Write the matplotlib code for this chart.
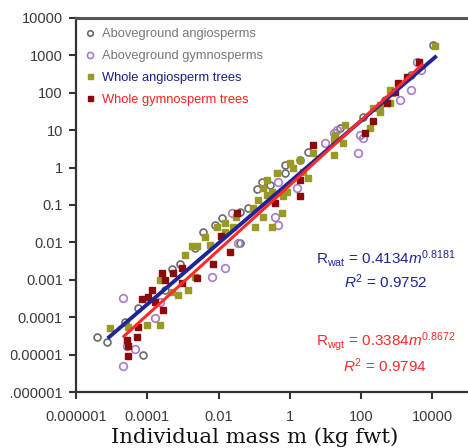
import numpy as np
import matplotlib
matplotlib.use("Agg")
import matplotlib.pyplot as plt
from matplotlib.patches import Rectangle

# ---------------- data ----------------
# Aboveground angiosperms (open grey circles)
ag_ang_m = [3.9e-6, 7.4e-6, 7.6e-5, 5.5e-5, 5.0e-4, 8.3e-4, 8.1e-3, 0.0126, 0.041, 0.068,
            0.12, 0.17, 0.74, 0.74, 3.3, 115, 1.07e4, 2.2e-3, 3.7e-3, 0.041,
            0.28, 1.95, 26, 480, 2450, 2.4e-5, 3.2e-4]
ag_ang_r = [3.0e-5, 2.2e-5, 1.0e-5, 1.8e-4, 1.9e-3, 2.6e-3, 0.030, 0.046, 0.0098, 0.085,
            0.26, 0.42, 1.2, 0.72, 2.6, 23, 1900, 7.2e-3, 0.019, 0.066,
            0.35, 1.6, 11.5, 65, 300, 7.6e-5, 5.5e-4]

# Aboveground gymnosperms (open purple circles)
ag_gym_m = [2.1e-5, 2.1e-5, 2.7e-5, 4.6e-5, 1.7e-4, 0.024, 0.48, 0.39, 0.48, 1.6,
            21, 95, 84, 10, 17, 115, 2450, 3800, 4700, 1260,
            0.0155, 6.6e-3, 0.035, 2.3e-4]
ag_gym_r = [3.3e-4, 5.1e-6, 1.7e-5, 1.4e-5, 9.8e-5, 0.062, 0.030, 0.049, 0.42, 0.29,
            10.2, 7.6, 2.5, 4.6, 8.5, 6.3, 120, 680, 410, 65,
            2.1e-3, 1.2e-3, 9.8e-3, 2.6e-4]

# Whole angiosperm trees (olive squares)
wh_ang_m = [9.1e-6, 2.9e-5, 1.0e-4, 2.3e-4, 2.3e-4, 5.0e-4, 7.4e-4, 1.15e-3, 1.8e-3, 1.4e-3,
            2.2e-3, 2.5e-3, 4.2e-3, 9.1e-3, 0.0155, 0.030, 0.026, 0.107, 0.32, 0.13,
            0.23, 0.23, 0.45, 0.32, 0.62, 0.85, 1.0, 1.95, 2.4, 4.6,
            1.26, 3.3, 0.66, 36, 19, 32, 17, 180, 350, 660,
            660, 350, 220, 17, 1.2e4, 760, 0.18, 0.093, 0.0155, 5.9e-3, 0.18]
wh_ang_r = [5.0e-5, 5.6e-5, 6.3e-5, 6.3e-5, 1.0e-3, 4.6e-4, 4.0e-4, 4.7e-3, 7.8e-3, 5.5e-4,
            1.2e-3, 8.1e-3, 0.014, 0.026, 0.034, 0.049, 0.026, 0.026, 0.026, 0.14,
            0.19, 0.47, 0.72, 0.22, 0.062, 0.22, 1.35, 1.6, 0.78, 2.5,
            1.0, 0.54, 0.17, 13.8, 7.6, 4.6, 2.2, 11.5, 31, 54,
            120, 48, 40, 5.5, 1780, 100, 0.29, 0.085, 0.019, 8.7e-3, 0.049]

# Whole gymnosperm trees (dark red squares)
wh_gym_m = [2.7e-5, 5.1e-5, 2.9e-5, 2.9e-5, 5.5e-5, 7.1e-5, 1.05e-4, 1.7e-4, 1.4e-4, 2.6e-4,
            3.2e-4, 5.4e-4, 9.5e-4, 9.5e-4, 2.8e-4, 0.012, 0.021, 0.033, 0.39, 1.95,
            1.95, 4.6, 220, 130, 550, 4100, 2000, 1120, 920, 7.1e-3, 2.5e-3]
wh_gym_r = [2.5e-5, 3.0e-5, 1.7e-5, 8.9e-6, 5.6e-5, 3.0e-4, 3.5e-4, 2.5e-4, 5.5e-4, 1.55e-3,
            1.0e-3, 1.55e-3, 2.1e-3, 8.3e-4, 1.6e-4, 0.015, 5.6e-3, 0.062, 0.115, 0.47,
            0.17, 4.1, 18, 8.5, 54, 680, 260, 180, 105, 2.6e-3, 1.15e-3]

# Fitted power laws
fit_ang_coef, fit_ang_exp = 0.4134, 0.8181
fit_gym_coef, fit_gym_exp = 0.3384, 0.8672
fit_ang_range = [8.5e-6, 1.2e4]
fit_gym_range = [2.2e-5, 5.2e3]

legend_labels = ["Aboveground angiosperms", "Aboveground gymnosperms",
                 "Whole angiosperm trees", "Whole gymnosperm trees"]
x_ticks = [1e-6, 1e-4, 1e-2, 1, 100, 10000]
x_ticklabels = ["0.000001", "0.0001", "0.01", "1", "100", "10000"]
y_ticks = [1e-6, 1e-5, 1e-4, 1e-3, 1e-2, 0.1, 1, 10, 100, 1000, 10000]
y_ticklabels = ["0.000001", "0.00001", "0.0001", "0.001", "0.01", "0.1", "1", "10",
                "100", "1000", "10000"]

# ---------------- figure ----------------
plt.rcParams['font.family'] = ['Liberation Sans', 'DejaVu Sans']
plt.rcParams['mathtext.fontset'] = 'custom'
plt.rcParams['mathtext.rm'] = 'Liberation Sans'
plt.rcParams['mathtext.it'] = 'Liberation Sans:italic'
plt.rcParams['mathtext.bf'] = 'Liberation Sans:bold'

W, H = 468, 448
fig = plt.figure(figsize=(W / 100, H / 100), dpi=100)
ax = fig.add_axes([76 / W, (H - 392) / H, (W - 76) / W, (392 - 18) / H])
ax.set_xscale('log')
ax.set_yscale('log')
ax.set_xlim(1e-6, 1e5)
ax.set_ylim(1e-6, 1e4)

c_gray = '#6a6a6a'
c_purple = '#a77cc9'
c_olive = '#999926'
c_dred = '#8b0a0a'
c_blue = '#202596'
c_red = '#ff2a2a'

ax.plot(ag_ang_m, ag_ang_r, 'o', ms=5, mfc='none', mec=c_gray, mew=1.2, ls='none',
        label=legend_labels[0], zorder=3)
ax.plot(ag_gym_m, ag_gym_r, 'o', ms=5.5, mfc='none', mec=c_purple, mew=1.2, ls='none',
        label=legend_labels[1], zorder=3)
ax.plot(wh_ang_m, wh_ang_r, 's', ms=4.5, mfc=c_olive, mec=c_olive, ls='none',
        label=legend_labels[2], zorder=3)
ax.plot(wh_gym_m, wh_gym_r, 's', ms=4.5, mfc=c_dred, mec=c_dred, ls='none',
        label=legend_labels[3], zorder=3)

xa = np.logspace(np.log10(fit_ang_range[0]), np.log10(fit_ang_range[1]), 50)
xg = np.logspace(np.log10(fit_gym_range[0]), np.log10(fit_gym_range[1]), 50)
ax.plot(xa, fit_ang_coef * xa ** fit_ang_exp, color=c_blue, lw=2.8, zorder=4)
ax.plot(xg, fit_gym_coef * xg ** fit_gym_exp, color=c_red, lw=2.2, zorder=5)

ax.set_xticks(x_ticks)
ax.set_xticklabels(x_ticklabels)
ax.set_yticks(y_ticks)
ax.set_yticklabels(y_ticklabels)
ax.minorticks_off()
ax.tick_params(axis='both', direction='out', length=5, width=1.5, colors='#333333',
               labelsize=10.5, labelcolor='#3a3a3a')
ax.tick_params(axis='y', pad=4.5)
ax.tick_params(axis='x', pad=8)

for s in ['left', 'bottom']:
    ax.spines[s].set_color('#333333')
    ax.spines[s].set_linewidth(1.6)
ax.spines['top'].set_color('#555555')
ax.spines['top'].set_linewidth(2.2)
ax.spines['right'].set_visible(False)

leg = ax.legend(loc='upper left', frameon=False, fontsize=9.3, handlelength=0.6,
                handletextpad=0.6, borderaxespad=0.4, labelspacing=0.75,
                bbox_to_anchor=(0.0, 1.0), markerscale=0.8)
for t, c in zip(leg.get_texts(), ['#777777', '#777777', '#1c1c8a', '#ff2020']):
    t.set_color(c)

ax.text(0.791, 0.358, r"R$_{\mathrm{wat}}$ = 0.4134$\it{m}^{0.8181}$", transform=ax.transAxes,
        ha='center', va='center', fontsize=11, color=c_blue)
ax.text(0.79, 0.294, r"$\it{R}^{2}$ = 0.9752", transform=ax.transAxes,
        ha='center', va='center', fontsize=11, color=c_blue)
ax.text(0.789, 0.134, r"R$_{\mathrm{wgt}}$ = 0.3384$\it{m}^{0.8672}$", transform=ax.transAxes,
        ha='center', va='center', fontsize=11, color=c_red)
ax.text(0.789, 0.07, r"$\it{R}^{2}$ = 0.9794", transform=ax.transAxes,
        ha='center', va='center', fontsize=11, color=c_red)

fig.text(255 / W, (H - 437) / H, "Individual mass m (kg fwt)", family='DejaVu Serif',
         fontsize=15.3, ha='center', va='center', color='#111111')

# the reference image is cropped at its left edge, cutting into the y labels
fig.patches.append(Rectangle((0, 0), 11 / W, 1, transform=fig.transFigure,
                             facecolor='white', edgecolor='none', zorder=10))

fig.savefig('out.png', dpi=100)
